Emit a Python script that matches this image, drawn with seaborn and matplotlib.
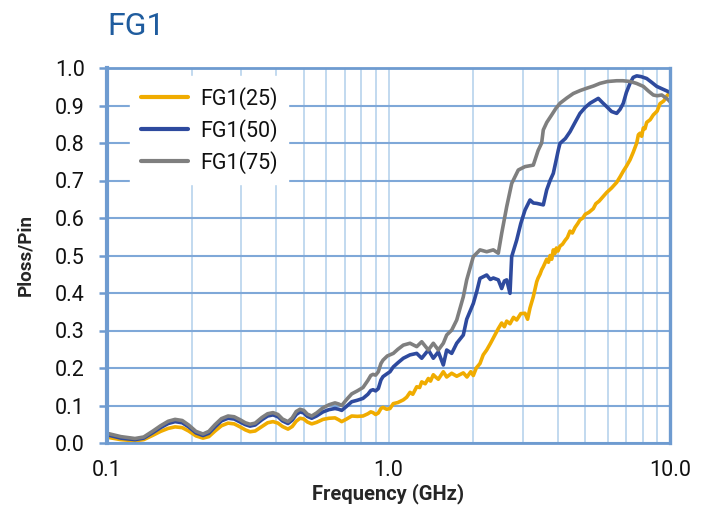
import matplotlib
matplotlib.use("Agg")
import matplotlib.pyplot as plt
import matplotlib.ticker as mticker
import numpy as np
import pandas as pd
import seaborn as sns

# Frequency sweep (GHz) and loss ratio for each termination
freq_25 = [0.1, 0.1025, 0.112, 0.1257, 0.135, 0.145, 0.155, 0.165, 0.1745, 0.185,
           0.195, 0.207, 0.2193, 0.23, 0.242, 0.255, 0.2691, 0.283, 0.297, 0.31,
           0.3221, 0.336, 0.355, 0.372, 0.3888, 0.405, 0.42, 0.4395, 0.455, 0.47,
           0.485, 0.50, 0.515, 0.5336, 0.555, 0.5853, 0.615, 0.6456, 0.665, 0.682,
           0.71, 0.7401, 0.775, 0.8118, 0.845, 0.865, 0.881, 0.90, 0.92, 0.94,
           0.9561, 0.985, 1.0123, 1.04, 1.08, 1.1288, 1.16, 1.1925, 1.22, 1.2597,
           1.29, 1.3122, 1.35, 1.3851, 1.41, 1.4428, 1.47, 1.5031, 1.5658, 1.6097,
           1.6769, 1.7472, 1.844, 1.90, 1.96, 2.001, 2.05, 2.1135, 2.17, 2.2325,
           2.30, 2.3572, 2.4548, 2.5238, 2.58, 2.6294, 2.7014, 2.78, 2.8535, 2.95,
           3.054, 3.12, 3.1817, 3.2687, 3.361, 3.40, 3.453, 3.50, 3.5474, 3.6475,
           3.70, 3.75, 3.80, 3.85, 3.90, 3.95, 4.0, 4.0664, 4.15, 4.2364,
           4.32, 4.4134, 4.50, 4.6, 4.70, 4.789, 4.90, 5.0, 5.15, 5.3395,
           5.45, 5.6, 5.75, 5.9576, 6.2, 6.4666, 6.65, 6.8252, 7.0, 7.2098,
           7.4, 7.6172, 7.72, 7.8237, 7.93, 8.0385, 8.15, 8.2633, 8.5, 8.724,
           9.0, 9.2153, 9.5, 9.7342, 10.0]
ploss_25 = [0.016, 0.014, 0.009, 0.006, 0.009, 0.020, 0.031, 0.039, 0.043, 0.041,
            0.032, 0.019, 0.013, 0.017, 0.032, 0.046, 0.053, 0.051, 0.043, 0.035,
            0.030, 0.032, 0.044, 0.054, 0.057, 0.053, 0.044, 0.037, 0.044, 0.058,
            0.066, 0.064, 0.056, 0.051, 0.055, 0.063, 0.066, 0.067, 0.062, 0.057,
            0.064, 0.072, 0.071, 0.072, 0.078, 0.083, 0.081, 0.076, 0.080, 0.092,
            0.095, 0.090, 0.092, 0.105, 0.108, 0.115, 0.122, 0.135, 0.130, 0.150,
            0.148, 0.163, 0.158, 0.172, 0.165, 0.182, 0.176, 0.170, 0.190, 0.176,
            0.186, 0.178, 0.187, 0.176, 0.190, 0.180, 0.200, 0.212, 0.235, 0.248,
            0.265, 0.280, 0.305, 0.320, 0.310, 0.325, 0.318, 0.335, 0.328, 0.345,
            0.346, 0.330, 0.360, 0.390, 0.430, 0.440, 0.450, 0.462, 0.470, 0.490,
            0.482, 0.500, 0.490, 0.515, 0.505, 0.520, 0.512, 0.525, 0.530, 0.540,
            0.548, 0.565, 0.560, 0.575, 0.585, 0.595, 0.600, 0.610, 0.615, 0.625,
            0.638, 0.645, 0.655, 0.668, 0.680, 0.695, 0.710, 0.725, 0.738, 0.755,
            0.775, 0.800, 0.822, 0.826, 0.818, 0.840, 0.838, 0.855, 0.862, 0.875,
            0.885, 0.905, 0.912, 0.925, 0.935]

freq_50 = [0.1, 0.1025, 0.112, 0.1257, 0.135, 0.145, 0.155, 0.165, 0.1745, 0.185,
           0.195, 0.207, 0.2193, 0.23, 0.242, 0.255, 0.2691, 0.283, 0.297, 0.31,
           0.3221, 0.336, 0.355, 0.372, 0.3888, 0.405, 0.42, 0.4395, 0.455, 0.47,
           0.485, 0.50, 0.515, 0.5336, 0.555, 0.5853, 0.615, 0.6456, 0.665, 0.682,
           0.71, 0.7401, 0.775, 0.8118, 0.845, 0.865, 0.881, 0.90, 0.92, 0.94,
           0.9561, 0.985, 1.0123, 1.0402, 1.08, 1.1288, 1.1925, 1.2597, 1.3122, 1.3851,
           1.4428, 1.5031, 1.5658, 1.6097, 1.6769, 1.7472, 1.844, 1.896, 2.001, 2.06,
           2.1135, 2.2325, 2.30, 2.3572, 2.4548, 2.5238, 2.58, 2.6294, 2.7014, 2.739,
           2.8535, 2.95, 3.054, 3.1817, 3.27, 3.361, 3.5474, 3.6475, 3.75, 3.85,
           3.93, 4.0104, 4.0664, 4.25, 4.4134, 4.60, 4.789, 5.0, 5.1974, 5.5627,
           5.75, 5.9576, 6.2, 6.4666, 6.65, 6.8252, 7.0, 7.2098, 7.4, 7.6172,
           7.9, 8.2633, 8.6, 8.9701, 9.4, 9.8625, 10.0]
ploss_50 = [0.022, 0.020, 0.013, 0.009, 0.013, 0.027, 0.041, 0.052, 0.057, 0.054,
            0.043, 0.027, 0.020, 0.026, 0.043, 0.059, 0.066, 0.064, 0.056, 0.049,
            0.045, 0.048, 0.062, 0.072, 0.075, 0.070, 0.059, 0.052, 0.061, 0.076,
            0.083, 0.080, 0.071, 0.066, 0.072, 0.083, 0.089, 0.092, 0.090, 0.087,
            0.098, 0.110, 0.114, 0.119, 0.130, 0.140, 0.142, 0.139, 0.145, 0.168,
            0.177, 0.184, 0.190, 0.203, 0.214, 0.226, 0.235, 0.239, 0.226, 0.248,
            0.226, 0.243, 0.208, 0.248, 0.239, 0.266, 0.288, 0.330, 0.372, 0.405,
            0.439, 0.448, 0.436, 0.440, 0.435, 0.412, 0.432, 0.435, 0.399, 0.497,
            0.541, 0.585, 0.621, 0.648, 0.640, 0.639, 0.635, 0.675, 0.700, 0.719,
            0.750, 0.781, 0.799, 0.812, 0.830, 0.855, 0.879, 0.895, 0.906, 0.919,
            0.908, 0.897, 0.884, 0.879, 0.890, 0.906, 0.935, 0.959, 0.975, 0.979,
            0.977, 0.972, 0.962, 0.951, 0.944, 0.937, 0.935]

freq_75 = [0.1, 0.1025, 0.112, 0.1257, 0.135, 0.145, 0.155, 0.165, 0.1745, 0.185,
           0.195, 0.207, 0.2193, 0.23, 0.242, 0.255, 0.2691, 0.283, 0.297, 0.31,
           0.3221, 0.336, 0.355, 0.372, 0.3888, 0.405, 0.42, 0.4395, 0.455, 0.47,
           0.485, 0.50, 0.515, 0.5336, 0.555, 0.5853, 0.615, 0.6456, 0.665, 0.682,
           0.71, 0.7401, 0.775, 0.8118, 0.845, 0.865, 0.881, 0.90, 0.92, 0.94,
           0.9561, 0.99, 1.0402, 1.08, 1.1288, 1.1925, 1.2597, 1.3122, 1.3851, 1.4428,
           1.5031, 1.5658, 1.6097, 1.6769, 1.7472, 1.844, 1.896, 2.001, 2.1135, 2.2325,
           2.3572, 2.4548, 2.5238, 2.6294, 2.739, 2.8912, 3.054, 3.2687, 3.40, 3.50,
           3.5474, 3.65, 3.8, 3.93, 4.0664, 4.3, 4.5337, 4.8, 5.059, 5.35,
           5.64, 6.0, 6.4666, 6.8, 7.2098, 7.6, 8.0385, 8.4, 8.724, 9.0,
           9.3436, 9.6, 9.8625, 10.0]
ploss_75 = [0.026, 0.024, 0.017, 0.012, 0.016, 0.031, 0.046, 0.058, 0.063, 0.060,
            0.048, 0.031, 0.024, 0.031, 0.049, 0.065, 0.072, 0.070, 0.062, 0.054,
            0.050, 0.053, 0.068, 0.078, 0.081, 0.076, 0.064, 0.057, 0.067, 0.084,
            0.090, 0.087, 0.077, 0.072, 0.080, 0.094, 0.102, 0.107, 0.104, 0.100,
            0.116, 0.131, 0.139, 0.148, 0.167, 0.180, 0.183, 0.181, 0.190, 0.212,
            0.221, 0.232, 0.239, 0.250, 0.261, 0.266, 0.257, 0.270, 0.248, 0.266,
            0.248, 0.266, 0.288, 0.301, 0.328, 0.390, 0.435, 0.497, 0.515, 0.510,
            0.515, 0.506, 0.559, 0.630, 0.692, 0.728, 0.737, 0.741, 0.780, 0.800,
            0.835, 0.855, 0.875, 0.892, 0.906, 0.920, 0.932, 0.940, 0.946, 0.952,
            0.959, 0.964, 0.966, 0.966, 0.964, 0.959, 0.951, 0.938, 0.928, 0.926,
            0.928, 0.922, 0.915, 0.910]

series_names = ["FG1(25)", "FG1(50)", "FG1(75)"]
series_colors = ["#F0AC00", "#2E4A9E", "#7F7F7F"]
x_tick_values = [0.1, 1.0, 10.0]
x_tick_labels = ["0.1", "1.0", "10.0"]
y_tick_values = [0.0, 0.1, 0.2, 0.3, 0.4, 0.5, 0.6, 0.7, 0.8, 0.9, 1.0]

frames = []
for name, f, p in zip(series_names, [freq_25, freq_50, freq_75], [ploss_25, ploss_50, ploss_75]):
    frames.append(pd.DataFrame({"Frequency": f, "Ploss": p, "Series": name}))
df = pd.concat(frames, ignore_index=True)

sns.set_style("white")
plt.rcParams["font.family"] = ["Roboto", "DejaVu Sans"]

spine_blue = "#6E9BD0"
grid_h = "#7FA8D8"
grid_v = "#BDD7EE"

fig = plt.figure(figsize=(7.04, 5.05), dpi=100)
ax = fig.add_axes([107 / 704, 62 / 505, 563 / 704, 375 / 505])

sns.lineplot(data=df, x="Frequency", y="Ploss", hue="Series", palette=series_colors,
             hue_order=series_names, estimator=None, sort=True, linewidth=2.6, ax=ax)
for line in ax.get_lines():
    line.set_solid_joinstyle("round")
    line.set_solid_capstyle("round")

ax.set_xscale("log")
ax.set_xlim(0.1, 10.0)
ax.set_ylim(0.0, 1.0)

ax.xaxis.set_major_locator(mticker.FixedLocator(x_tick_values))
ax.xaxis.set_major_formatter(mticker.FixedFormatter(x_tick_labels))
ax.xaxis.set_minor_locator(mticker.LogLocator(base=10, subs=np.arange(2, 10)))
ax.xaxis.set_minor_formatter(mticker.NullFormatter())
ax.set_yticks(y_tick_values)
ax.set_yticklabels([f"{v:.1f}" for v in y_tick_values])

ax.grid(True, which="both", axis="x", color=grid_v, linewidth=1.3)
ax.grid(True, which="major", axis="y", color=grid_h, linewidth=1.5)
ax.set_axisbelow(True)

for side, lw in [("left", 3.0), ("right", 2.4), ("top", 2.0), ("bottom", 2.0)]:
    ax.spines[side].set_visible(True)
    ax.spines[side].set_color(spine_blue)
    ax.spines[side].set_linewidth(lw)

ax.tick_params(axis="y", which="major", length=6, width=1.8, color=spine_blue,
               labelsize=15.5, pad=10, labelcolor="#111111", left=True)
ax.tick_params(axis="x", which="both", length=0, labelsize=15.5, pad=12,
               labelcolor="#111111")

ax.set_xlabel("Frequency (GHz)", fontsize=14.5, fontweight="bold", labelpad=2)
ax.set_ylabel("Ploss/Pin", fontsize=13.5, fontweight="bold", labelpad=15)

fig.text(107 / 704, 1 - 35 / 505, "FG1", fontsize=23, color="#1F5C9E",
         ha="left", va="baseline")

leg = ax.legend(loc="upper left", bbox_to_anchor=(0.041, 0.979), frameon=True,
                fontsize=15.5, handlelength=2.2, handletextpad=0.55, labelspacing=0.42,
                borderpad=0.5, borderaxespad=0)
leg.get_frame().set_facecolor("white")
leg.get_frame().set_edgecolor("white")
leg.get_frame().set_alpha(1.0)
leg.get_frame().set_boxstyle("square", pad=0)
for line in leg.get_lines():
    line.set_linewidth(3.0)
for t in leg.get_texts():
    t.set_color("#111111")

fig.savefig("out.png", dpi=100)
